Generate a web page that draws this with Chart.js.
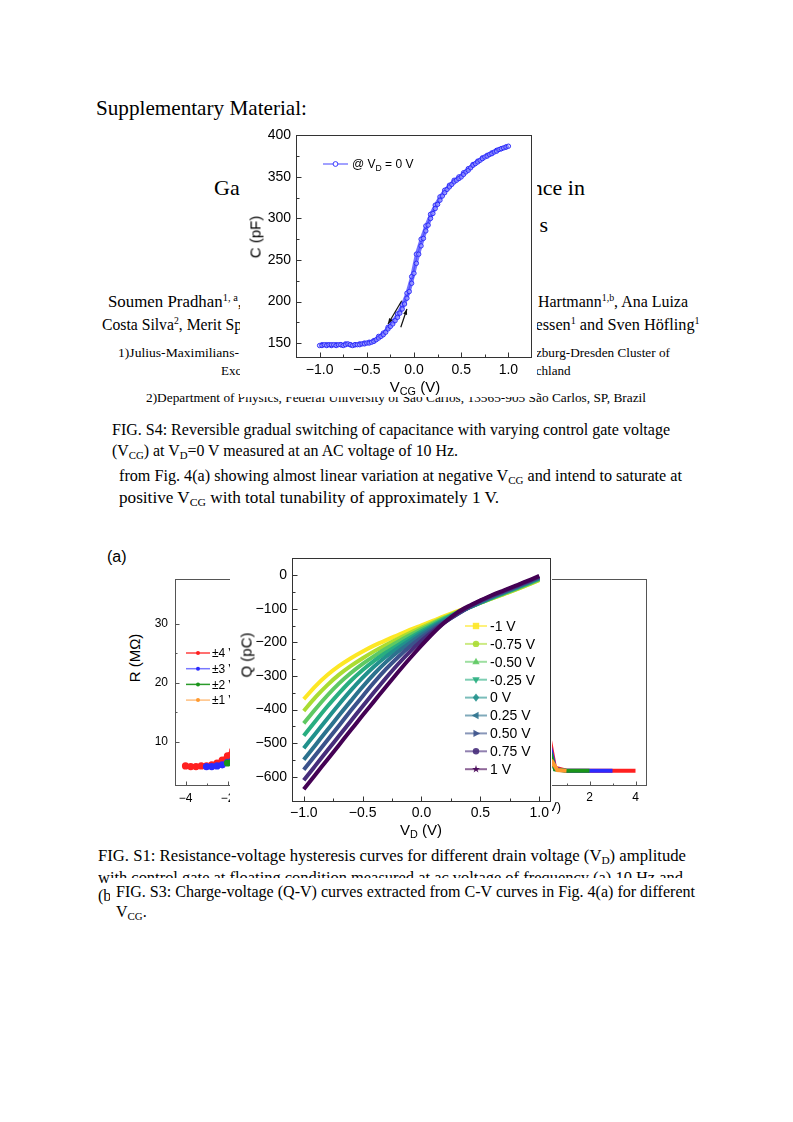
<!DOCTYPE html>
<html>
<head>
<meta charset="utf-8">
<script src="https://cdn.jsdelivr.net/npm/chart.js@4.4.0/dist/chart.umd.min.js"></script>
<style>
html, body { margin: 0; padding: 0; background: #fff; }
#page { position: relative; width: 793px; height: 1122px; overflow: hidden; background: #fff; }
.t { position: absolute; white-space: nowrap; font-family: "Liberation Serif", "Times New Roman", serif; line-height: 1; color: #000; z-index: 0; }
.t sub { font-size: 0.68em; vertical-align: -0.25em; line-height: 0; }
.t sup { font-size: 0.62em; vertical-align: 0.6em; line-height: 0; }
.box { position: absolute; background: #fff; z-index: 2; }
.a { position: absolute; white-space: nowrap; font-family: "Liberation Sans", Arial, sans-serif; line-height: 1; color: #000; z-index: 5; }
.a sub { font-size: 0.72em; vertical-align: -0.3em; line-height: 0; }
.ctr { transform: translate(-50%, -50%); }
.rot { transform: translate(-50%, -50%) rotate(-90deg); }
canvas { position: absolute; }
</style>
</head>
<body>
<div id="page">

<!-- page text -->
<div class="t" style="left:96px;top:98px;font-size:21px" data-w="211">Supplementary Material:</div>
<div class="t" style="left:214px;top:177px;font-size:22px">Ga</div>
<div class="t" style="right:208px;top:177px;font-size:22px">nce in</div>
<div class="t" style="right:245px;top:214px;font-size:22px">s</div>

<div class="t" style="left:108px;top:293px;font-size:17px" data-w="134">Soumen Pradhan<sup>1, a</sup>,</div>
<div class="t" style="right:105px;top:293px;font-size:17px" data-w="150" data-r="1">Hartmann<sup>1,b</sup>, Ana Luiza</div>
<div class="t" style="left:102px;top:316px;font-size:17px" data-w="140">Costa Silva<sup>2</sup>, Merit Sp</div>
<div class="t" style="right:93px;top:316px;font-size:17px" data-w="164" data-r="1">essen<sup>1</sup> and Sven Höfling<sup>1</sup></div>

<div class="t" style="left:118px;top:346px;font-size:13px" data-w="121">1)Julius-Maximilians-</div>
<div class="t" style="right:123px;top:346px;font-size:13px" data-w="134" data-r="1">zburg-Dresden Cluster of</div>
<div class="t" style="left:221px;top:364px;font-size:13px">Exc</div>
<div class="t" style="right:222px;top:364px;font-size:13px" data-w="35" data-r="1">chland</div>
<div class="t" style="left:146px;top:391px;font-size:13px" data-w="500">2)Department of Physics, Federal University of São Carlos, 13565-905 São Carlos, SP, Brazil</div>

<div class="t" style="left:112px;top:422px;font-size:16px" data-w="558">FIG. S4: Reversible gradual switching of capacitance with varying control gate voltage</div>
<div class="t" style="left:112px;top:443px;font-size:16px" data-w="346">(V<sub>CG</sub>) at V<sub>D</sub>=0 V measured at an AC voltage of 10 Hz.</div>
<div class="t" style="left:119px;top:468px;font-size:16px" data-w="563">from Fig. 4(a) showing almost linear variation at negative V<sub>CG</sub> and intend to saturate at</div>
<div class="t" style="left:119px;top:490px;font-size:16px" data-w="380">positive V<sub>CG</sub> with total tunability of approximately 1 V.</div>

<div class="t" style="left:98px;top:848px;font-size:16px" data-w="588">FIG. S1: Resistance-voltage hysteresis curves for different drain voltage (V<sub>D</sub>) amplitude</div>
<div class="t" style="left:98px;top:870px;font-size:16px" data-w="585">with control gate at floating condition measured at ac voltage of frequency (a) 10 Hz and</div>
<div class="t" style="left:98px;top:888px;font-size:16px">(b)</div>

<div class="box" style="left:110px;top:878px;width:594px;height:48px"></div>
<div class="t" style="left:116px;top:884px;font-size:16px;z-index:3" data-w="579">FIG. S3: Charge-voltage (Q-V) curves extracted from C-V curves in Fig. 4(a) for different</div>
<div class="t" style="left:116px;top:904px;font-size:16px;z-index:3">V<sub>CG</sub>.</div>

<!-- resistance figure (behind) -->
<div class="a" style="left:107px;top:549px;font-size:16px;z-index:1">(a)</div>
<div class="a rot" style="left:134px;top:658px;font-size:15px;z-index:1">R (MΩ)</div>
<canvas id="rLeft" width="232" height="240" style="left:140px;top:565px;z-index:1"></canvas>
<canvas id="rRight" width="250" height="250" style="left:400px;top:565px;z-index:1"></canvas>
<div class="a ctr" style="left:543px;top:806px;font-size:13px;z-index:1">V<sub>D</sub> (V)</div>

<!-- C-V figure -->
<div class="box" style="left:240px;top:122px;width:297px;height:275px">
  <canvas id="cv" width="297" height="275" style="left:0;top:0"></canvas>
</div>
<div class="a" style="left:352px;top:158px;font-size:12px">@ V<sub>D</sub> = 0 V</div>
<div class="a rot" style="left:255px;top:237px;font-size:15px">C (pF)</div>
<div class="a ctr" style="left:415px;top:386px;font-size:15px">V<sub>CG</sub> (V)</div>

<!-- Q-V figure -->
<div class="box" style="left:230px;top:545px;width:322px;height:295px">
  <canvas id="qv" width="322" height="295" style="left:0;top:0"></canvas>
</div>
<div class="a rot" style="left:246px;top:655px;font-size:15px">Q (pC)</div>
<div class="a ctr" style="left:421px;top:829px;font-size:15px">V<sub>D</sub> (V)</div>

</div>

<script>
const SANS = '"Liberation Sans", Arial, sans-serif';

// ---- C-V data (V_CG sweep at V_D = 0 V) ----
const cvVcg = [-1,-0.975,-0.95,-0.925,-0.9,-0.875,-0.85,-0.825,-0.8,-0.775,
  -0.75,-0.725,-0.7,-0.675,-0.65,-0.625,-0.6,-0.575,-0.55,-0.525,
  -0.5,-0.475,-0.45,-0.425,-0.4,-0.375,-0.35,-0.325,-0.3,-0.275,
  -0.25,-0.225,-0.2,-0.175,-0.15,-0.125,-0.1,-0.075,-0.05,-0.025,
  0,0.025,0.05,0.075,0.1,0.125,0.15,0.175,0.2,0.225,
  0.25,0.275,0.3,0.325,0.35,0.375,0.4,0.425,0.45,0.475,
  0.5,0.525,0.55,0.575,0.6,0.625,0.65,0.675,0.7,0.725,
  0.75,0.775,0.8,0.825,0.85,0.875,0.9,0.925,0.95,0.975,1];
const cvUp = [147,147,148,147,148,148,148,147,148,148,
  147,148,149,148,147,148,148,148,149,149,
  150,150,151,152,154,156,158,160,163,167,
  170,173,177,181,186,191,197,204,212,222,
  234,246,257,267,276,285,292,300,306,312,
  317,322,327,331,335,338,341,344,346,348,
  350,353,356,358,361,364,366,368,370,372,
  374,375,377,378,380,381,383,384,385,386,387];
const cvDownVcg = [-0.975,-0.925,-0.875,-0.825,-0.775,-0.725,-0.675,-0.625,-0.575,-0.525,
  -0.475,-0.425,-0.375,-0.325,-0.275,-0.225,-0.175,-0.125,-0.075,-0.025,
  0.025,0.075,0.125,0.175,0.225,0.275,0.325,0.375,0.425,0.475,
  0.525,0.575,0.625,0.675,0.725,0.775,0.825,0.875,0.925,0.975];
const cvDown = [148,148,147,148,148,149,148,148,149,150,
  151,153,158,162,169,176,185,196,210,230,
  257,275,291,305,316,326,334,340,346,350,
  355,360,365,369,373,376,379,382,384,386];
const cvXTicks = [-1, -0.5, 0, 0.5, 1];
const cvYTicks = [150, 200, 250, 300, 350, 400];
const cvArrows = [[-0.13, 201, -0.275, 173], [-0.14, 169, -0.075, 191]];

// ---- Q-V data ----
const qvVd = [-1,-0.9,-0.8,-0.7,-0.6,-0.5,-0.4,-0.3,-0.2,-0.1,0,0.1,0.2,0.3,0.4,0.5,0.6,0.7,0.8,0.9,1];
const qvM100 = [-369,-330,-297,-270,-247,-227,-209,-193,-178,-163,-149,-135,-121,-108,-95,-82,-69,-56,-43,-29,-15];
const qvM075 = [-404,-363,-327,-296,-270,-247,-226,-207,-189,-172,-156,-140,-125,-110,-96,-82,-69,-56,-43,-29,-14];
const qvM050 = [-441,-398,-358,-322,-291,-264,-240,-218,-198,-179,-161,-144,-127,-111,-96,-82,-68,-54,-41,-27,-12];
const qvM025 = [-478,-434,-391,-351,-314,-282,-254,-230,-208,-187,-167,-148,-130,-113,-97,-82,-67,-53,-39,-25,-10];
const qv000  = [-515,-471,-427,-384,-343,-305,-271,-242,-217,-194,-172,-152,-133,-115,-97,-81,-66,-52,-38,-24,-9];
const qvP025 = [-549,-505,-461,-417,-374,-332,-293,-258,-228,-202,-178,-156,-136,-116,-97,-80,-64,-50,-36,-22,-7];
const qvP050 = [-579,-535,-491,-447,-403,-360,-318,-279,-244,-213,-186,-161,-139,-117,-96,-78,-63,-49,-35,-21,-6];
const qvP075 = [-610,-566,-522,-478,-434,-390,-347,-305,-265,-228,-195,-166,-140,-116,-94,-76,-61,-47,-33,-19,-4];
const qvP100 = [-637,-593,-549,-505,-461,-417,-374,-331,-289,-248,-209,-172,-139,-112,-92,-75,-59,-45,-31,-17,-2];
const qvLabels = ['-1 V', '-0.75 V', '-0.50 V', '-0.25 V', '0 V', '0.25 V', '0.50 V', '0.75 V', '1 V'];
const qvXTicks = [-1, -0.5, 0, 0.5, 1];
const qvYTicks = [0, -100, -200, -300, -400, -500, -600];

// ---- R-V data (partly hidden panels) ----
const rLabels = ['±4 V', '±3 V', '±2 V', '±1 V'];
const rlRedX = [-4,-3.75,-3.5,-3.25,-3,-2.75,-2.5,-2.25,-2,-1.75,-1.5];
const rlRedY = [5.9,5.8,5.8,5.9,5.9,6.1,6.4,6.9,7.6,8.5,9.6];
const rlBlueX = [-3,-2.75,-2.5,-2.25,-2,-1.75,-1.5];
const rlBlueY = [5.8,5.8,5.9,6.1,6.5,6.9,7.4];
const rlGreenX = [-2,-1.75,-1.5,-1.25,-1];
const rlGreenY = [6.4,6.7,7.1,7.6,8.2];
const rlOrangeX = [-1,-0.75,-0.5];
const rlOrangeY = [6.2,6.5,7.0];
const rrRedX = [0.2,0.35,0.5,1,2,3,4];
const rrRedY = [5.3,8.8,5.6,5.1,5.1,5.1,5.1];
const rrBlueX = [0.2,0.35,0.5,1,2,3];
const rrBlueY = [5.3,8.0,5.4,5.1,5.1,5.1];
const rrGreenX = [0.2,0.35,0.5,1,2];
const rrGreenY = [5.4,7.4,5.3,5.1,5.1];
const rrOrangeX = [0.2,0.4,0.6,1];
const rrOrangeY = [5.3,6.5,5.2,5.1];
const rXTicks = [-4, -2, 0, 2, 4];
const rYTicks = [10, 20, 30];

const viridis = ['#fde725','#aadc32','#5ec962','#28ae80','#21918c','#2c728e','#3b528b','#472d7b','#440154'];
const qvStyles = [['rect',0],['circle',0],['triangle',0],['triangle',180],['diamond',0],['triangle',-90],['triangle',90],['circle',0],['star',0]];

function pts(xs, ys) { return xs.map((v, i) => ({ x: v, y: ys[i] })); }
function minusFmt(d) {
  return v => (v < 0 ? '\u2212' : '') + Math.abs(v).toFixed(d);
}
function hexA(hex, a) {
  const n = parseInt(hex.slice(1), 16);
  return 'rgba(' + (n >> 16) + ',' + ((n >> 8) & 255) + ',' + (n & 255) + ',' + a + ')';
}

function marker(ctx, style, x, y, r, rot, fill, stroke) {
  ctx.save();
  ctx.translate(x, y);
  ctx.rotate((rot || 0) * Math.PI / 180);
  ctx.beginPath();
  if (style === 'rect') {
    ctx.rect(-r, -r, 2 * r, 2 * r);
  } else if (style === 'triangle') {
    ctx.moveTo(0, -r * 1.3); ctx.lineTo(r * 1.15, r * 0.8); ctx.lineTo(-r * 1.15, r * 0.8); ctx.closePath();
  } else if (style === 'diamond') {
    ctx.moveTo(0, -r * 1.3); ctx.lineTo(r, 0); ctx.lineTo(0, r * 1.3); ctx.lineTo(-r, 0); ctx.closePath();
  } else if (style === 'star') {
    for (let k = 0; k < 10; k++) {
      const rr = k % 2 ? r * 0.5 : r * 1.3;
      const an = -Math.PI / 2 + k * Math.PI / 5;
      if (k) ctx.lineTo(rr * Math.cos(an), rr * Math.sin(an)); else ctx.moveTo(rr * Math.cos(an), rr * Math.sin(an));
    }
    ctx.closePath();
  } else {
    ctx.arc(0, 0, r, 0, Math.PI * 2);
  }
  if (fill) { ctx.fillStyle = fill; ctx.fill(); }
  if (stroke) { ctx.strokeStyle = stroke; ctx.lineWidth = 1; ctx.stroke(); }
  ctx.restore();
}

// frame around the plot plus inward major/minor ticks
const frameTicks = {
  id: 'frameTicks',
  afterDatasetsDraw(chart, args, o) {
    const { ctx, chartArea: a, scales: { x, y } } = chart;
    const L = Math.round(a.left) + 0.5, T = Math.round(a.top) + 0.5;
    const R = Math.round(a.right) - 0.5, B = Math.round(a.bottom) - 0.5;
    ctx.save();
    ctx.strokeStyle = o.color || '#222';
    ctx.lineWidth = 1;
    ctx.strokeRect(L, T, R - L, B - T);
    const len = o.len || 5, mlen = o.mlen || 3;
    const xs = x.ticks.map(t => t.value), ys = y.ticks.map(t => t.value);
    const mids = arr => arr.slice(1).map((v, i) => (v + arr[i]) / 2);
    ctx.beginPath();
    xs.forEach(v => { const p = Math.round(x.getPixelForValue(v)) + 0.5; ctx.moveTo(p, B); ctx.lineTo(p, B - len); });
    mids(xs).forEach(v => { const p = Math.round(x.getPixelForValue(v)) + 0.5; ctx.moveTo(p, B); ctx.lineTo(p, B - mlen); });
    ys.forEach(v => { const p = Math.round(y.getPixelForValue(v)) + 0.5; ctx.moveTo(L, p); ctx.lineTo(L + len, p); });
    mids(ys).forEach(v => { const p = Math.round(y.getPixelForValue(v)) + 0.5; ctx.moveTo(L, p); ctx.lineTo(L + mlen, p); });
    ctx.stroke();
    ctx.restore();
  }
};

const miniLegend = {
  id: 'miniLegend',
  afterDraw(chart, args, o) {
    if (!o || !o.items) return;
    const ctx = chart.ctx;
    ctx.save();
    ctx.font = o.font || ('12px ' + SANS);
    ctx.textBaseline = 'middle';
    o.items.forEach((it, i) => {
      const y = o.y + i * o.dy;
      ctx.strokeStyle = it.line;
      ctx.lineWidth = o.lw;
      ctx.beginPath(); ctx.moveTo(o.x0, y); ctx.lineTo(o.x1, y); ctx.stroke();
      marker(ctx, it.style, (o.x0 + o.x1) / 2, y, o.r, it.rot, it.fill, it.stroke);
      if (it.label) { ctx.fillStyle = '#000'; ctx.fillText(it.label, o.xt, y + 1); }
    });
    ctx.restore();
  }
};

const arrows = {
  id: 'arrows',
  afterDatasetsDraw(chart, args, o) {
    if (!o || !o.list) return;
    const { ctx, scales: { x, y } } = chart;
    ctx.save();
    ctx.strokeStyle = '#111'; ctx.fillStyle = '#111'; ctx.lineWidth = 1.2;
    o.list.forEach(a => {
      const x0 = x.getPixelForValue(a[0]), y0 = y.getPixelForValue(a[1]);
      const x1 = x.getPixelForValue(a[2]), y1 = y.getPixelForValue(a[3]);
      const ang = Math.atan2(y1 - y0, x1 - x0), h = 6;
      ctx.beginPath(); ctx.moveTo(x0, y0); ctx.lineTo(x1, y1); ctx.stroke();
      ctx.beginPath();
      ctx.moveTo(x1, y1);
      ctx.lineTo(x1 - h * Math.cos(ang - 0.35), y1 - h * Math.sin(ang - 0.35));
      ctx.lineTo(x1 - h * Math.cos(ang + 0.35), y1 - h * Math.sin(ang + 0.35));
      ctx.closePath(); ctx.fill();
    });
    ctx.restore();
  }
};

function axis(min, max, ticks, fmt, size, pad, fit, isX) {
  return {
    type: 'linear', min: min, max: max,
    grid: { display: false, drawTicks: false },
    border: { display: false },
    ticks: { font: { family: SANS, size: size }, color: '#000', padding: pad, autoSkip: false, maxRotation: 0, callback: fmt },
    afterBuildTicks: s => { s.ticks = ticks.map(v => ({ value: v })); },
    afterFit: s => { if (isX) s.height = fit; else s.width = fit; }
  };
}

function baseOpts(pad, x, y, plug) {
  return {
    responsive: false, animation: false, devicePixelRatio: 1,
    layout: { padding: pad },
    scales: { x: x, y: y },
    plugins: Object.assign({ legend: { display: false }, tooltip: { enabled: false } }, plug)
  };
}

// ---- C-V chart ----
function cvSet(xs, ys) {
  return { data: pts(xs, ys), borderColor: 'rgba(70,70,255,0.75)', borderWidth: 3, pointStyle: 'circle',
    pointRadius: 2.2, pointBorderWidth: 1, pointBorderColor: 'rgba(40,40,250,0.95)', pointBackgroundColor: 'rgba(190,190,255,0.5)' };
}
new Chart(document.getElementById('cv'), {
  type: 'line',
  data: { datasets: [cvSet(cvVcg, cvUp), cvSet(cvDownVcg, cvDown)] },
  options: baseOpts({ top: 9, right: 2, left: 0, bottom: 0 },
    axis(-1.25, 1.25, cvXTicks, minusFmt(1), 14, 4, 39, true),
    axis(132, 400, cvYTicks, v => String(v), 14, 5, 56, false),
    {
      frameTicks: { color: '#333', len: 5, mlen: 3 },
      miniLegend: { x0: 83, x1: 108, y: 42, dy: 0, r: 2.4, lw: 1.2,
        items: [{ style: 'circle', line: 'rgba(80,80,255,0.9)', fill: '#fff', stroke: '#3a3aff' }] },
      arrows: { list: cvArrows }
    }),
  plugins: [frameTicks, miniLegend, arrows]
});

// ---- Q-V chart ----
const qvSeries = [qvM100, qvM075, qvM050, qvM025, qv000, qvP025, qvP050, qvP075, qvP100];
new Chart(document.getElementById('qv'), {
  type: 'line',
  data: {
    datasets: qvSeries.map((s, k) => ({
      data: pts(qvVd, s), borderColor: viridis[k], borderWidth: 4, pointRadius: 0,
      cubicInterpolationMode: 'monotone', order: 8 - k
    }))
  },
  options: baseOpts({ top: 5, right: 1, left: 0, bottom: 0 },
    axis(-1.1, 1.1, qvXTicks, minusFmt(1), 14, 3, 38, true),
    axis(-675, 50, qvYTicks, minusFmt(0), 14, 5, 62, false),
    {
      frameTicks: { color: '#333', len: 5, mlen: 3 },
      miniLegend: { x0: 235, x1: 257, xt: 260, y: 81, dy: 17.9, r: 3.2, lw: 2, font: '14px ' + SANS,
        items: qvLabels.map((l, k) => ({ label: l, style: qvStyles[k][0], rot: qvStyles[k][1],
          line: hexA(viridis[k], 0.6), fill: hexA(viridis[k], 0.9) })) }
    }),
  plugins: [frameTicks, miniLegend]
});

// ---- R-V panels ----
const rColors = ['#ff2020', '#2b2bff', '#1a951a', '#ff9a30'];
const rLegLine = ['#ff4040', '#7878ff', '#2a9a2a', '#ffc080'];
function rSet(xs, ys, k, rad) {
  return { data: pts(xs, ys), borderColor: rColors[k], borderWidth: 4, pointRadius: rad,
    pointBackgroundColor: rColors[k], pointBorderColor: rColors[k], order: 3 - k };
}
new Chart(document.getElementById('rLeft'), {
  type: 'line',
  data: { datasets: [rSet(rlRedX, rlRedY, 0, 1.6), rSet(rlBlueX, rlBlueY, 1, 1.6), rSet(rlGreenX, rlGreenY, 2, 1.6), rSet(rlOrangeX, rlOrangeY, 3, 1.6)] },
  options: baseOpts({ top: 14, right: 3, left: 0, bottom: 0 },
    axis(-4.5, 4.5, rXTicks, minusFmt(0), 12, 5, 19, true),
    axis(2.5, 37.6, rYTicks, v => String(v), 12, 7, 35, false),
    {
      frameTicks: { color: '#555', len: 4, mlen: 2 },
      miniLegend: { x0: 46, x1: 70, xt: 72, y: 88, dy: 15.7, r: 2, lw: 1.5, font: '12px ' + SANS,
        items: rLabels.map((l, k) => ({ label: l, style: 'circle', line: rLegLine[k], fill: rColors[k] })) }
    }),
  plugins: [frameTicks, miniLegend]
});
new Chart(document.getElementById('rRight'), {
  type: 'line',
  data: { datasets: [rSet(rrRedX, rrRedY, 0, 0), rSet(rrBlueX, rrBlueY, 1, 0), rSet(rrGreenX, rrGreenY, 2, 0), rSet(rrOrangeX, rrOrangeY, 3, 0)] },
  options: baseOpts({ top: 12, right: 3, left: 0, bottom: 0 },
    axis(-4.5, 4.5, rXTicks, minusFmt(0), 12, 4, 29, true),
    axis(2.5, 37.6, rYTicks, v => String(v), 12, 7, 40, false),
    { frameTicks: { color: '#555', len: 4, mlen: 2 } }),
  plugins: [frameTicks]
});

// stretch text lines to the measured widths of the reference
function fitText() {
  document.querySelectorAll('[data-w]').forEach(el => {
    el.style.transform = 'none';
    const w = el.getBoundingClientRect().width;
    const s = parseFloat(el.dataset.w) / w;
    el.style.transformOrigin = el.dataset.r ? 'right center' : 'left center';
    el.style.transform = 'scaleX(' + s.toFixed(4) + ')';
  });
}
fitText();
if (document.fonts && document.fonts.ready) document.fonts.ready.then(fitText);
</script>
</body>
</html>
